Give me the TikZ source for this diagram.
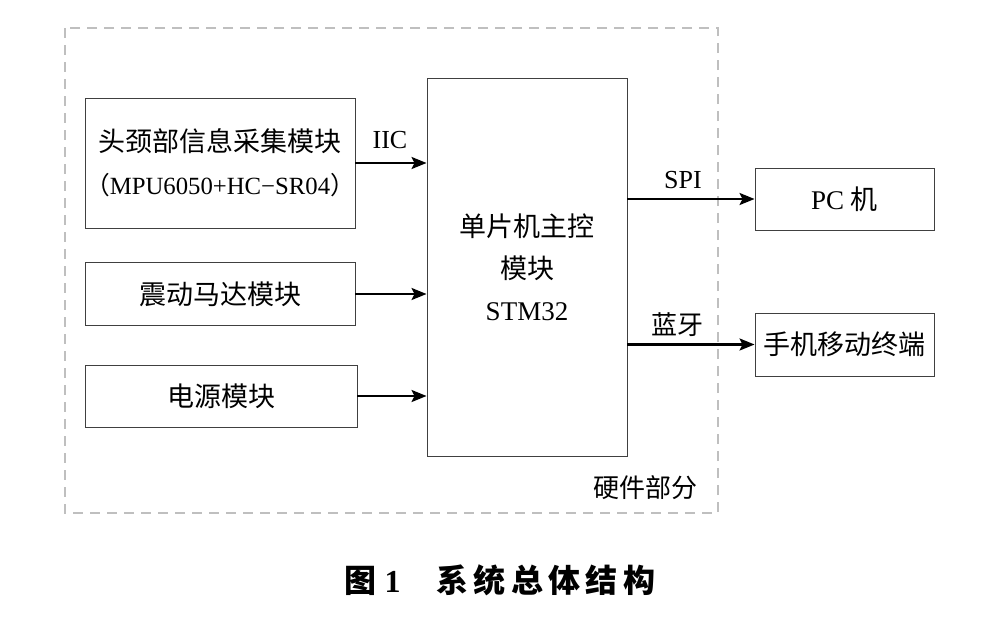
\documentclass[tikz,border=0pt]{standalone}
\usepackage{fontspec}
\usepackage{graphicx}
\setmainfont{Liberation Serif}
\newfontfamily\cjk{Noto Sans CJK SC}
\usetikzlibrary{arrows.meta}
\begin{document}
\begin{tikzpicture}[x=1pt,y=-1pt,
  box/.style={draw=black!75,line width=0.9pt,inner sep=0pt},
  arr/.style={line width=2.4pt,-{Stealth[length=15pt,width=12pt,inset=3pt]}},
  lbl/.style={font=\fontsize{26}{30}\selectfont,inner sep=0pt}]
\useasboundingbox (0,0) rectangle (1004,621);
\draw[black!25,line width=1.4pt,dash pattern=on 10pt off 7pt] (65,28) rectangle (718,513);
% left boxes
\node[box,minimum width=270pt,minimum height=130pt,text width=260pt,align=center,font=\fontsize{27}{43}\selectfont] (head) at (220,163)
  {{\cjk 头颈部信息采集模块}\\\resizebox{250pt}{!}{\kern-0.4em{\cjk （}MPU6050+HC−SR04{\cjk ）}\kern-0.4em}};
\node[box,minimum width=270pt,minimum height=63pt,font=\fontsize{27}{32}\selectfont] (motor) at (220,294) {\cjk 震动马达模块};
\node[box,minimum width=272pt,minimum height=62pt,font=\fontsize{27}{32}\selectfont] (power) at (221,396) {\cjk 电源模块};
% main
\node[box,minimum width=200pt,minimum height=378pt,align=center,font=\fontsize{27}{42}\selectfont] (mcu) at (527,267)
  {{\cjk 单片机主控}\\{\cjk 模块}\\STM32};
% right boxes
\node[box,minimum width=179pt,minimum height=62pt,font=\fontsize{27}{32}\selectfont] (pc) at (844.5,199) {PC {\cjk 机}};
\node[box,minimum width=179pt,minimum height=63pt,font=\fontsize{27}{32}\selectfont] (phone) at (844.5,344.5) {\cjk 手机移动终端};
% arrows
\draw[arr] (head.east |- 0,163) -- (mcu.west |- 0,163);
\draw[arr] (motor.east) -- (mcu.west |- motor.east);
\draw[arr] (power.east) -- (mcu.west |- power.east);
\draw[arr] (mcu.east |- pc.west) -- (pc.west);
\draw[arr] (mcu.east |- phone.west) -- (phone.west);
% labels
\node[lbl] (iic) at (390,140) {IIC};
\node[lbl] (spi) at (683,180) {SPI};
\node[lbl] (bt) at (677,325) {\cjk 蓝牙};
\node[lbl] (hw) at (645,488) {\cjk 硬件部分};
\node[inner sep=0pt,font=\fontsize{32}{36}\selectfont] (cap) at (500,580)
  {{\cjk\bfseries 图} \textbf{1}\hspace{36pt}{\cjk\bfseries 系\,统\,总\,体\,结\,构}};
\end{tikzpicture}
\end{document}
